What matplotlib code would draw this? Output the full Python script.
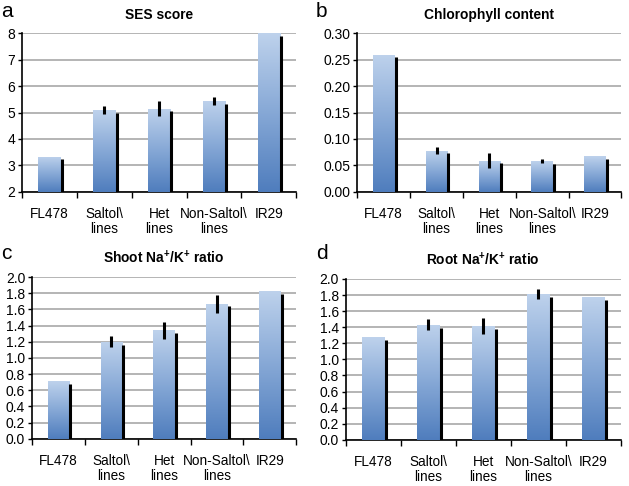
import matplotlib.pyplot as plt
import numpy as np
from matplotlib.colors import LinearSegmentedColormap

plt.rcParams['font.family'] = ['Liberation Sans', 'DejaVu Sans']
plt.rcParams['mathtext.fontset'] = 'custom'
plt.rcParams['mathtext.rm'] = 'Liberation Sans'
plt.rcParams['mathtext.bf'] = 'Liberation Sans:bold'

categories = ["FL478", "Saltol\\\nlines", "Het\nlines", "Non-Saltol\\\nlines", "IR29"]

ses = [3.33, 5.08, 5.15, 5.44, 8.0]
ses_err = [0, 0.15, 0.3, 0.15, 0]

chl = [0.259, 0.078, 0.059, 0.058, 0.067]
chl_err = [0, 0.006, 0.014, 0.004, 0]

shoot = [0.71, 1.20, 1.34, 1.67, 1.83]
shoot_err = [0, 0.07, 0.11, 0.11, 0]

root = [1.28, 1.43, 1.41, 1.81, 1.77]
root_err = [0, 0.07, 0.10, 0.06, 0]

cmap = LinearSegmentedColormap.from_list("barblue", ["#4f7dbd", "#86a8d6", "#bed2ec"])


def panel(ax, vals, errs, title, ylim, yticks, fmt):
    x = np.arange(len(vals))
    w = 0.41
    ax.set_xlim(-0.5, len(vals) - 0.5)
    ax.set_ylim(*ylim)
    bars = ax.bar(x, [v - ylim[0] for v in vals], w, bottom=ylim[0],
                  color="none", edgecolor="none", zorder=3)
    grad = np.linspace(0, 1, 256).reshape(-1, 1)
    for b in bars:
        x0, y0 = b.get_x(), b.get_y()
        im = ax.imshow(grad, cmap=cmap, origin="lower", aspect="auto",
                       extent=[x0, x0 + b.get_width(), y0, y0 + b.get_height()],
                       zorder=3)
        im.set_clip_path(b)
    # dark shadow line on right side of bars
    rng = ylim[1] - ylim[0]
    ax.vlines(x + w / 2 + 0.02, ylim[0], np.array(vals) - 0.017 * rng,
              color="black", lw=2.2, zorder=4)
    ax.errorbar(x, vals, yerr=errs, fmt="none", ecolor="black",
                elinewidth=2.2, capsize=0, zorder=5)
    ax.set_xlim(-0.5, len(vals) - 0.5)
    ax.set_ylim(*ylim)
    ax.set_yticks(yticks)
    ax.set_yticklabels([fmt.format(t) for t in yticks], fontsize=10)
    ax.yaxis.grid(True, color="#a0a0a0", lw=1.1, zorder=0)
    ax.set_axisbelow(True)
    ax.set_xticks(np.arange(-0.5, len(vals)), minor=False)
    ax.set_xticklabels([])
    ax.set_xticks(x, minor=True)
    ax.set_xticklabels(categories, minor=True, fontsize=9.8, linespacing=1.1)
    ax.tick_params(axis="x", which="minor", length=0, pad=11)
    ax.tick_params(axis="x", which="major", length=4, width=1)
    ax.tick_params(axis="y", length=3, width=1, pad=2)
    for s in ["top", "right"]:
        ax.spines[s].set_visible(False)
    ax.spines["left"].set_linewidth(1.2)
    ax.spines["bottom"].set_linewidth(1.2)
    ax.set_title(title, fontsize=9.9, fontweight="bold", pad=10)
    return ax


fig = plt.figure(figsize=(6.29, 4.86), dpi=100)
ax_a = fig.add_axes([0.035, 0.605, 0.436, 0.327])
ax_b = fig.add_axes([0.568, 0.605, 0.420, 0.327])
ax_c = fig.add_axes([0.051, 0.097, 0.420, 0.333])
ax_d = fig.add_axes([0.550, 0.095, 0.437, 0.331])

panel(ax_a, ses, ses_err, "SES score", (2, 8), range(2, 9), "{:d}")
panel(ax_b, chl, chl_err, "Chlorophyll content", (0, 0.30),
      np.arange(0, 0.301, 0.05), "{:.2f}")
panel(ax_c, shoot, shoot_err, r"Shoot Na$^{\mathbf{+}}$/K$^{\mathbf{+}}$ ratio",
      (0, 2.0), np.arange(0, 2.01, 0.2), "{:.1f}")
panel(ax_d, root, root_err, r"Root Na$^{\mathbf{+}}$/K$^{\mathbf{+}}$ ratio",
      (0, 2.0), np.arange(0, 2.01, 0.2), "{:.1f}")

fig.text(0.002, 0.995, "a", fontsize=15, va="top", ha="left")
fig.text(0.502, 0.995, "b", fontsize=15, va="top", ha="left")
fig.text(0.002, 0.497, "c", fontsize=15, va="top", ha="left")
fig.text(0.502, 0.497, "d", fontsize=15, va="top", ha="left")

fig.savefig("out.png", dpi=100)
